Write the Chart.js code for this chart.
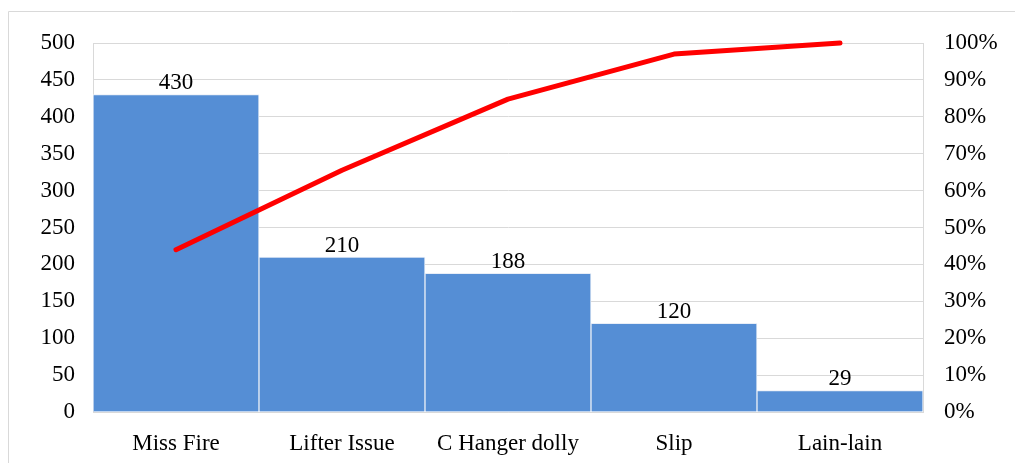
<!DOCTYPE html>
<html>
<head>
<meta charset="utf-8">
<script src="https://cdn.jsdelivr.net/npm/chart.js@4"></script>
<style>
  html, body { margin: 0; padding: 0; background: #fff; }
  canvas { display: block; }
</style>
</head>
<body>
<canvas id="pareto" width="1015" height="463"></canvas>
<script>
// === data ===
const categories = ["Miss Fire", "Lifter Issue", "C Hanger dolly", "Slip", "Lain-lain"];
const counts = [430, 210, 188, 120, 29];
// cumulative share in percent
const cumulativePct = [44.0, 65.5, 84.8, 97.0, 100];

const FONT = "'Liberation Serif', 'Times New Roman', serif";
const FONT_SIZE = 23;
const GRID = "#d9d9d9";

// value labels on top of each bar
const barLabels = {
    id: "barLabels",
    afterDatasetsDraw(chart) {
        const meta = chart.getDatasetMeta(1);
        const c = chart.ctx;
        c.save();
        c.font = FONT_SIZE + "px " + FONT;
        c.fillStyle = "#000";
        c.textAlign = "center";
        c.textBaseline = "bottom";
        meta.data.forEach((bar, i) => {
            c.fillText(String(counts[i]), bar.x, bar.y);
        });
        c.restore();
    }
};

// thin outer frame (chart area border of the original)
const outerFrame = {
    id: "outerFrame",
    beforeDraw(chart) {
        const c = chart.ctx;
        c.save();
        c.strokeStyle = GRID;
        c.lineWidth = 1;
        c.beginPath();
        c.moveTo(8.5, 463);
        c.lineTo(8.5, 11.5);
        c.lineTo(1015, 11.5);
        c.stroke();
        c.restore();
    }
};

new Chart(document.getElementById("pareto").getContext("2d"), {
    data: {
        labels: categories,
        datasets: [
            {
                type: "line",
                data: cumulativePct,
                yAxisID: "y1",
                borderColor: "#ff0000",
                borderWidth: 5,
                borderCapStyle: "round",
                borderJoinStyle: "round",
                pointRadius: 0,
                tension: 0,
                clip: false,
                order: 0
            },
            {
                type: "bar",
                data: counts,
                yAxisID: "y",
                backgroundColor: "#558ed5",
                borderColor: "#e8eef7",
                borderWidth: 1,
                categoryPercentage: 1,
                barPercentage: 1,
                order: 1
            }
        ]
    },
    options: {
        responsive: false,
        animation: false,
        layout: { padding: { top: 43, left: 0, right: 0, bottom: 0 } },
        plugins: {
            legend: { display: false },
            tooltip: { enabled: false }
        },
        scales: {
            x: {
                grid: { display: false, drawTicks: false },
                border: { color: GRID },
                ticks: { color: "#000", font: { family: FONT, size: FONT_SIZE }, padding: 18 },
                afterFit: s => { s.height = 51; }
            },
            y: {
                position: "left",
                min: 0,
                max: 500,
                grid: { color: GRID, drawTicks: false },
                border: { color: GRID },
                ticks: { stepSize: 50, color: "#000", font: { family: FONT, size: FONT_SIZE }, padding: 18 },
                afterFit: s => { s.width = 93; }
            },
            y1: {
                position: "right",
                min: 0,
                max: 100,
                grid: { display: false, drawTicks: false },
                border: { color: GRID },
                ticks: {
                    stepSize: 10,
                    color: "#000",
                    font: { family: FONT, size: FONT_SIZE },
                    padding: 21,
                    callback: v => v + "%"
                },
                afterFit: s => { s.width = 92; }
            }
        }
    },
    plugins: [outerFrame, barLabels]
});
</script>
</body>
</html>
